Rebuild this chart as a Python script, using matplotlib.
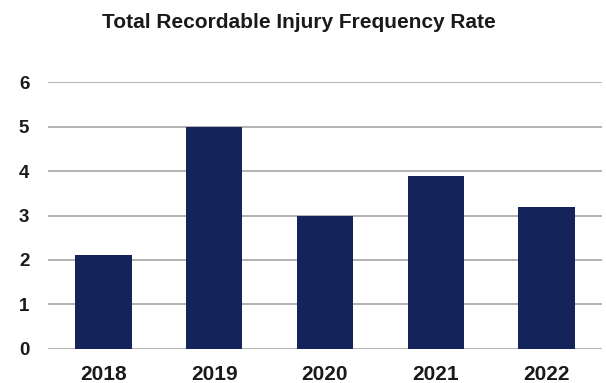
import matplotlib.pyplot as plt

plt.rcParams['font.family'] = ['Liberation Sans', 'DejaVu Sans']

# TRIFR by year
years = ['2018', '2019', '2020', '2021', '2022']
trifr = [2.1, 5.0, 3.0, 3.9, 3.2]
y_ticks = [0, 1, 2, 3, 4, 5, 6]

fig = plt.figure(figsize=(6.06, 3.83), dpi=100)
ax = fig.add_axes([48 / 606, 1 - 348.7 / 383, 554 / 606, 266.4 / 383])

ax.bar(range(len(years)), trifr, width=0.51, color='#14245a', zorder=3)

ax.set_xlim(-0.5, len(years) - 0.5)
ax.set_ylim(0, 6)
ax.set_yticks(y_ticks)
ax.set_xticks(range(len(years)))
ax.set_xticklabels(years)

ax.yaxis.grid(True, color='#a6a6a6', linewidth=1.2, zorder=0)
ax.set_axisbelow(True)
for s in ax.spines.values():
    s.set_visible(False)
ax.tick_params(axis='both', length=0, labelcolor='#1a1a1a')
ax.tick_params(axis='y', pad=13.5, labelsize=13.5)
ax.tick_params(axis='x', pad=12, labelsize=15)
for lbl in ax.get_xticklabels() + ax.get_yticklabels():
    lbl.set_fontweight('bold')

fig.text(298.7 / 606, 1 - 23 / 383, 'Total Recordable Injury Frequency Rate',
         ha='center', va='center', fontsize=15, fontweight='bold', color='#1a1a1a')

fig.savefig('out.png', dpi=100)
